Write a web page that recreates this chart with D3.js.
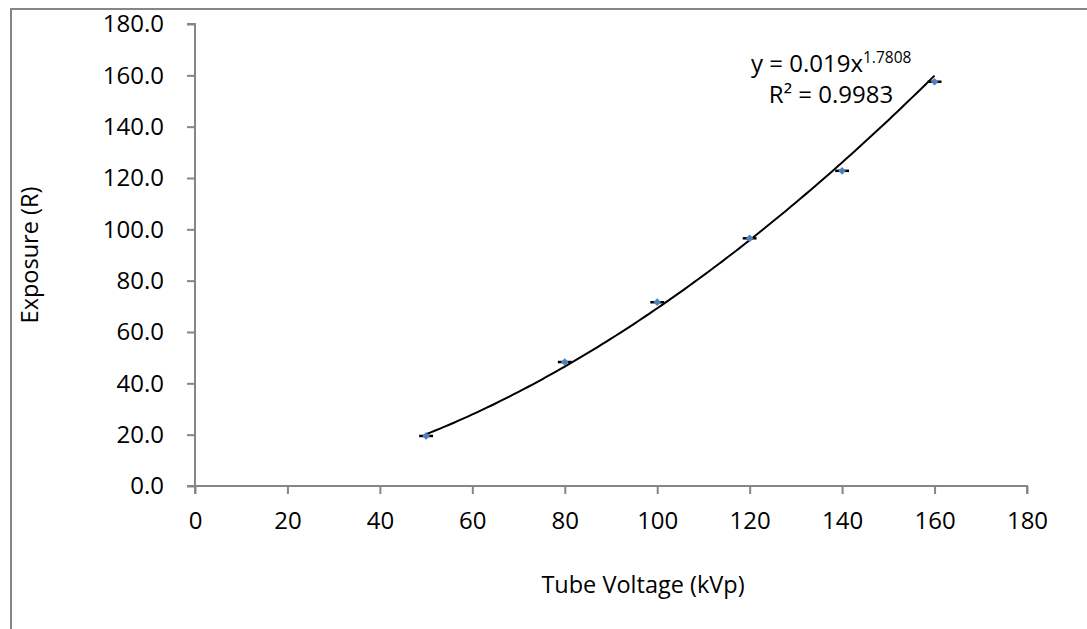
<!DOCTYPE html>
<html>
<head>
<meta charset="utf-8">
<script src="https://cdn.jsdelivr.net/npm/d3@7"></script>
<style>
  html, body { margin: 0; padding: 0; background: #fff; }
  svg { display: block; }
  text { font-family: "Open Sans", Lato, sans-serif; fill: #000; }
</style>
</head>
<body>
<svg id="chart" width="1087" height="629"></svg>
<script>
// Measured exposure vs. tube voltage
const voltage = [50, 80, 100, 120, 140, 160];
const exposure = [19.5, 48.3, 71.6, 96.5, 122.8, 157.5];
const voltageError = [1.5, 1.5, 1.5, 1.5, 1.5, 1.5];

// Power-law fit y = a * x^b
const fitA = 0.019;
const fitB = 1.7808;
const fitR2 = 0.9983;

const xTicks = [0, 20, 40, 60, 80, 100, 120, 140, 160, 180];
const yTicks = [0, 20, 40, 60, 80, 100, 120, 140, 160, 180];

const FONT = "'Open Sans', Lato, sans-serif";
const TICK_FS = "24px";
const TITLE_FS = "23.5px";

const svg = d3.select("#chart");
const W = 1087, H = 629;
const margin = { left: 195, right: 60, top: 24, bottom: 143 };

const x = d3.scaleLinear().domain([0, 180]).range([margin.left, W - margin.right]);
const y = d3.scaleLinear().domain([0, 180]).range([H - margin.bottom, margin.top]);

const axisColor = "#868686";

// Chart area frame (top and left edges visible)
svg.append("path")
  .attr("d", `M11,${H + 5} L11,9 L${W + 5},9`)
  .attr("fill", "none")
  .attr("stroke", axisColor)
  .attr("stroke-width", 2);

// Y axis
const yAxis = svg.append("g")
  .attr("transform", `translate(${x(0)},0)`)
  .call(d3.axisLeft(y).tickValues(yTicks).tickFormat(d3.format(".1f")).tickSize(8).tickPadding(23));

// X axis
const xAxis = svg.append("g")
  .attr("transform", `translate(0,${y(0)})`)
  .call(d3.axisBottom(x).tickValues(xTicks).tickFormat(d3.format("d")).tickSize(8).tickPadding(18));

[yAxis, xAxis].forEach(g => {
  g.select(".domain").attr("stroke", axisColor).attr("stroke-width", 2);
  g.selectAll(".tick line").attr("stroke", axisColor).attr("stroke-width", 2);
  g.selectAll(".tick text")
    .style("font-family", FONT)
    .style("font-size", TICK_FS)
    .attr("fill", "#000");
});
yAxis.select(".domain").attr("d", `M-8,${y(180)}H0V${y(0)}H-8`);
xAxis.select(".domain").attr("d", `M${x(0)},8V0H${x(180)}V8`);

// Trend line
const fitX = d3.range(50, 160.01, 1);
const line = d3.line().x(d => x(d)).y(d => y(fitA * Math.pow(d, fitB)));
svg.append("path")
  .datum(fitX)
  .attr("d", line)
  .attr("fill", "none")
  .attr("stroke", "#000")
  .attr("stroke-width", 2);

// Horizontal error bars
const data = voltage.map((v, i) => ({ v, e: exposure[i], err: voltageError[i] }));
svg.append("g").selectAll("line")
  .data(data)
  .join("line")
  .attr("x1", d => x(d.v - d.err))
  .attr("x2", d => x(d.v + d.err))
  .attr("y1", d => y(d.e))
  .attr("y2", d => y(d.e))
  .attr("stroke", "#000")
  .attr("stroke-width", 2.5);

// Diamond markers
svg.append("g").selectAll("path")
  .data(data)
  .join("path")
  .attr("transform", d => `translate(${x(d.v)},${y(d.e)}) rotate(45)`)
  .attr("d", d3.symbol().type(d3.symbolSquare).size(30))
  .attr("fill", "#4F81BD");

// Fit equation
const eq = svg.append("text")
  .attr("x", 751)
  .attr("y", 72)
  .style("font-family", FONT)
  .style("font-size", TICK_FS);
eq.append("tspan").text(`y = ${fitA}x`);
eq.append("tspan").attr("dy", -9).style("font-size", "15.5px").text(fitB.toFixed(4));

svg.append("text")
  .attr("x", 831)
  .attr("y", 103)
  .attr("text-anchor", "middle")
  .style("font-family", FONT)
  .style("font-size", TICK_FS)
  .text(`R² = ${fitR2}`);

// Axis titles
svg.append("text")
  .attr("x", 643)
  .attr("y", 593)
  .attr("text-anchor", "middle")
  .style("font-family", FONT)
  .style("font-size", TITLE_FS)
  .text("Tube Voltage (kVp)");

svg.append("text")
  .attr("transform", `translate(38,${(y(0) + y(180)) / 2}) rotate(-90)`)
  .attr("text-anchor", "middle")
  .style("font-family", FONT)
  .style("font-size", TITLE_FS)
  .text("Exposure (R)");
</script>
</body>
</html>
